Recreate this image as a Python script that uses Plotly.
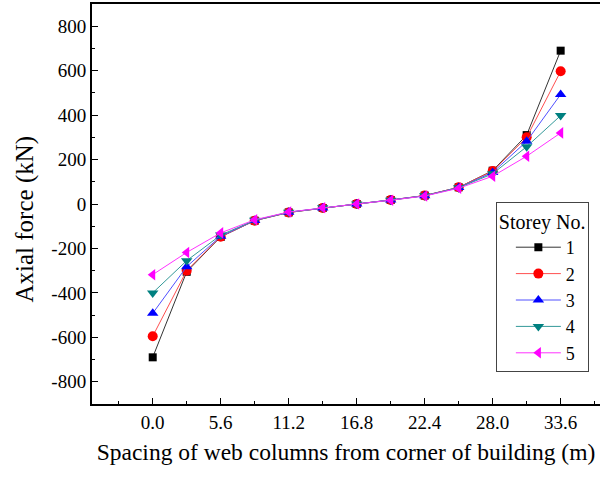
import plotly.graph_objects as go

spacing = [0.0, 2.8, 5.6, 8.4, 11.2, 14.0, 16.8, 19.6, 22.4, 25.2, 28.0, 30.8, 33.6]
storey1 = [-690, -305, -148, -75, -38, -18, 0, 18, 38, 75, 150, 310, 690]
storey2 = [-595, -300, -147, -75, -38, -18, 0, 18, 38, 75, 148, 300, 597]
storey3 = [-492, -282, -145, -74, -37, -18, 0, 18, 37, 74, 142, 282, 493]
storey4 = [-400, -255, -140, -73, -37, -17, 0, 17, 37, 73, 136, 258, 398]
storey5 = [-318, -218, -130, -71, -36, -17, 0, 17, 36, 71, 125, 215, 320]

names = ["1", "2", "3", "4", "5"]
series = [storey1, storey2, storey3, storey4, storey5]
colors = ["#000000", "#ff0000", "#0000ff", "#008080", "#ff00ff"]
linecolors = ["#333333", "#ff5050", "#5050ff", "#339999", "#ff33ff"]
symbols = ["square", "circle", "triangle-up", "triangle-down", "triangle-left"]
sizes = [8, 10, 10, 10, 10]

x_ticks = [0, 5.6, 11.2, 16.8, 22.4, 28.0, 33.6]
x_ticktext = ["0.0", "5.6", "11.2", "16.8", "22.4", "28.0", "33.6"]
y_ticks = [-800, -600, -400, -200, 0, 200, 400, 600, 800]
y_ticktext = ["-800", "-600", "-400", "-200", "0", "200", "400", "600", "800"]

fig = go.Figure()
for n, s, c, lc, sym, sz in zip(names, series, colors, linecolors, symbols, sizes):
    fig.add_trace(go.Scatter(
        x=spacing, y=s, name=n, mode="lines+markers",
        line=dict(color=lc, width=1),
        marker=dict(symbol=sym, size=sz, color=c, line=dict(width=0)),
    ))

ff = "Liberation Serif, Times New Roman, serif"
fig.update_layout(
    width=600, height=477,
    margin=dict(l=92, r=0, t=4, b=73),
    paper_bgcolor="white", plot_bgcolor="white",
    font=dict(family=ff, size=19, color="black"),
    showlegend=True,
    legend=dict(
        title=dict(text="Storey No.", font=dict(family=ff, size=20)),
        x=0.795, y=0.505, xanchor="left", yanchor="top",
        bordercolor="#444444", borderwidth=1, bgcolor="white",
        font=dict(family=ff, size=18), itemwidth=45, tracegroupgap=0,
        indentation=14, entrywidth=60,
    ),
    annotations=[dict(
        text="Axial force (kN)", textangle=-90, showarrow=False,
        xref="paper", yref="paper", x=(24 - 92) / 508, y=(404 - 219.5) / 400,
        xanchor="center", yanchor="middle",
        font=dict(family=ff, size=25, color="black"),
    )],
)
fig.update_xaxes(
    range=[-5.0, 36.84], tickvals=x_ticks, ticktext=x_ticktext,
    tickfont=dict(family=ff, size=19),
    ticks="inside", ticklen=6, tickwidth=1, tickcolor="black",
    minor=dict(ticks="inside", ticklen=3, tickwidth=1, tickcolor="black", dtick=2.8, tick0=0),
    showline=True, linecolor="black", linewidth=2, mirror=True,
    showgrid=False, zeroline=False,
    title=dict(text="Spacing of web columns from corner of building (m)",
               font=dict(family=ff, size=23.5), standoff=12),
)
fig.update_yaxes(
    range=[-900, 900], tickvals=y_ticks, ticktext=y_ticktext,
    tickfont=dict(family=ff, size=19),
    ticks="inside", ticklen=6, tickwidth=1, tickcolor="black",
    minor=dict(ticks="inside", ticklen=3, tickwidth=1, tickcolor="black", dtick=100, tick0=0),
    showline=True, linecolor="black", linewidth=2, mirror=False,
    showgrid=False, zeroline=False,
)
fig.write_html("out.html")
